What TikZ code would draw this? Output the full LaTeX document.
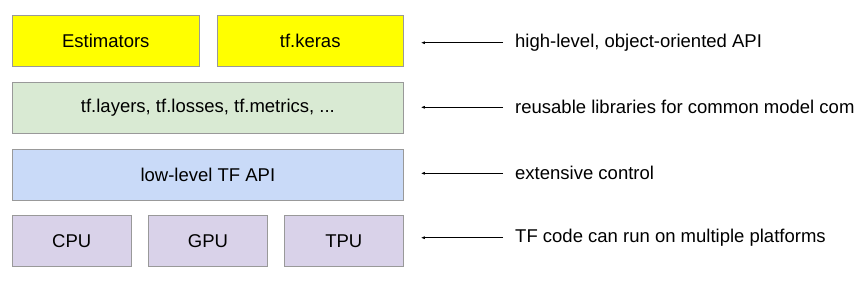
\documentclass[tikz,border=0pt]{standalone}
\usepackage{fontspec}
\setmainfont{Liberation Sans}
\usetikzlibrary{arrows.meta}
\definecolor{hiyellow}{HTML}{FFFF00}
\definecolor{libgreen}{HTML}{D9EAD3}
\definecolor{apiblue}{HTML}{C9DAF8}
\definecolor{hwpurple}{HTML}{D9D2E9}
\definecolor{edgegray}{HTML}{999999}
\begin{document}
\begin{tikzpicture}[x=1pt, y=-1pt, every node/.style={font=\fontsize{18.5}{22}\selectfont},
  layer/.style={draw=edgegray, line width=1pt, minimum height=51pt, inner sep=0pt},
  note/.style={anchor=west, inner sep=0pt},
  pointer/.style={-{Latex[length=4pt,width=3pt]}, line width=0.8pt, shorten <=12pt, shorten >=17pt}]
  \useasboundingbox (0,0) rectangle (855,282);

  % stack of layers
  \node[layer, fill=hiyellow, minimum width=186.5pt] (est) at (105.8,41.2) {Estimators};
  \node[layer, fill=hiyellow, minimum width=186.3pt] (keras) at (310.2,41.2) {tf.keras};
  \node[layer, fill=libgreen, minimum width=390.8pt] (libs) at (207.9,108) {tf.layers, tf.losses, tf.metrics, ...};
  \node[layer, fill=apiblue, minimum width=390.8pt] (lowapi) at (207.9,174.7) {low-level TF API};
  \node[layer, fill=hwpurple, minimum width=118.7pt] (cpu) at (71.7,241.3) {CPU};
  \node[layer, fill=hwpurple, minimum width=118.6pt] (gpu) at (208,241.3) {GPU};
  \node[layer, fill=hwpurple, minimum width=119pt] (tpu) at (343.8,241.3) {TPU};

  % notes on the right
  \node[note] (hinote) at (515,42.7) {high-level, object-oriented API};
  \node[note] (libnote) at (515,107.3) {reusable libraries for common model com};
  \node[note] (ctrlnote) at (515,173.3) {extensive control};
  \node[note] (hwnote) at (515,237.7) {TF code can run on multiple platforms};

  \draw[pointer] (hinote.west) -- (hinote.west -| keras.east);
  \draw[pointer] (libnote.west) -- (libnote.west -| libs.east);
  \draw[pointer] (ctrlnote.west) -- (ctrlnote.west -| lowapi.east);
  \draw[pointer] (hwnote.west) -- (hwnote.west -| tpu.east);
\end{tikzpicture}
\end{document}
